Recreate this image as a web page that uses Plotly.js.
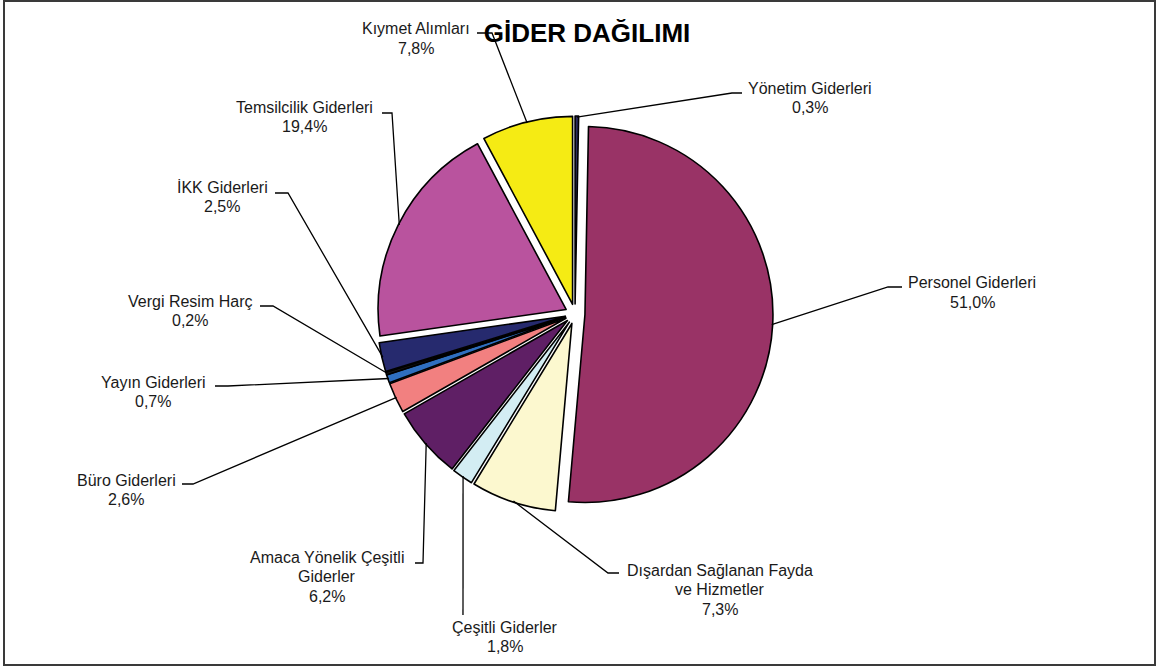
<!DOCTYPE html>
<html>
<head>
<meta charset="utf-8">
<script src="https://cdn.plot.ly/plotly-3.0.1.min.js"></script>
<style>html,body{margin:0;padding:0;background:#fff;}#chart{width:1157px;height:668px;}</style>
</head>
<body>
<div id="chart"></div>
<script>
// ---- data ----
const categories = ["Yönetim Giderleri", "Personel Giderleri", "Dışardan Sağlanan Fayda ve Hizmetler", "Çeşitli Giderler", "Amaca Yönelik Çeşitli Giderler", "Büro Giderleri", "Yayın Giderleri", "Vergi Resim Harç", "İKK Giderleri", "Temsilcilik Giderleri", "Kıymet Alımları"];
const displayLabels = ["Yönetim Giderleri", "Personel Giderleri", "Dışardan Sağlanan Fayda<br>ve Hizmetler", "Çeşitli Giderler", "Amaca Yönelik Çeşitli<br>Giderler", "Büro Giderleri", "Yayın Giderleri", "Vergi Resim Harç", "İKK Giderleri", "Temsilcilik Giderleri", "Kıymet Alımları"];
const percentages = [0.3, 51.0, 7.3, 1.8, 6.2, 2.6, 0.7, 0.2, 2.5, 19.4, 7.8];
const titleText = "GİDER DAĞILIMI";

// ---- styles ----
const sliceColors = ["#2B2B5E", "#993366", "#FCF8CF", "#D3EDF3", "#5F1F65", "#F28080", "#2F6FBF", "#1A1A1A", "#262A6E", "#B9539E", "#F5EB14"];
const FONT = 'Liberation Sans, Arial, sans-serif';

// ---- layout geometry (pixels) ----
const W = 1157, H = 668;
const cx = 575, cy = 314, R = 188, pull = 0.053;
const half = R * (1 + pull);
const lineGap = 19.5;
// label placement: [elbowX, elbowY, endX, textCenterX, firstLineCenterY]
const labelPlace = [
  [732, 93, 742, 810, 88],
  [888, 287, 902, 972, 283],
  [608, 573, 619, 720, 570],
  [463, 615, 463, 505, 627],
  [423, 563, 415, 327, 557],
  [193, 484, 182, 126, 480],
  [228, 386, 215, 153, 382],
  [273, 306, 260, 190, 301],
  [288, 193, 275, 222, 187],
  [392, 113, 382, 304, 107],
  [492, 33, 477, 416, 29]
];

const px = x => x / W;
const py = y => 1 - y / H;

const total = percentages.reduce((a, b) => a + b, 0);
const shapes = [];
const annotations = [];
let cum = 0;
percentages.forEach((v, i) => {
  const theta = 2 * Math.PI * (cum + v / 2) / total;
  cum += v;
  const ra = half - 1;
  const ax = cx + ra * Math.sin(theta);
  const ay = cy - ra * Math.cos(theta);
  const p = labelPlace[i];
  shapes.push({
    type: 'path', xref: 'paper', yref: 'paper',
    path: `M ${px(ax)},${py(ay)} L ${px(p[0])},${py(p[1])} L ${px(p[2])},${py(p[1])}`,
    line: {color: '#000', width: 1.3}
  });
  const lines = displayLabels[i].split('<br>').concat([v.toFixed(1).replace('.', ',') + '%']);
  lines.forEach((t, k) => {
    annotations.push({
      xref: 'paper', yref: 'paper', x: px(p[3]), y: py(p[4] + k * lineGap),
      xanchor: 'center', yanchor: 'middle', showarrow: false, align: 'center',
      text: t,
      font: {family: FONT, size: 16, color: '#1a1a1a'}
    });
  });
});

shapes.push({
  type: 'rect', xref: 'paper', yref: 'paper',
  x0: px(4), x1: px(1155), y0: py(665), y1: py(1),
  line: {color: '#3a3a3a', width: 2}, fillcolor: 'rgba(0,0,0,0)', layer: 'below'
});

const trace = {
  type: 'pie',
  labels: categories,
  values: percentages,
  sort: false,
  direction: 'clockwise',
  rotation: 0,
  textinfo: 'none',
  hoverinfo: 'label+percent',
  pull: percentages.map(() => pull),
  marker: {colors: sliceColors, line: {color: '#000', width: 1.6}},
  domain: {x: [px(cx - half), px(cx + half)], y: [py(cy + half), py(cy - half)]},
  showlegend: false
};

const layout = {
  width: W, height: H,
  margin: {l: 0, r: 0, t: 0, b: 0},
  paper_bgcolor: '#fff',
  title: {
    text: '<b>' + titleText + '</b>',
    font: {family: FONT, size: 26, color: '#000'},
    x: px(587), xref: 'paper', xanchor: 'center',
    y: 1 - 33 / H, yref: 'container', yanchor: 'middle'
  },
  shapes: shapes,
  annotations: annotations,
  showlegend: false
};

Plotly.newPlot('chart', [trace], layout, {displayModeBar: false, staticPlot: true});
</script>
</body>
</html>
